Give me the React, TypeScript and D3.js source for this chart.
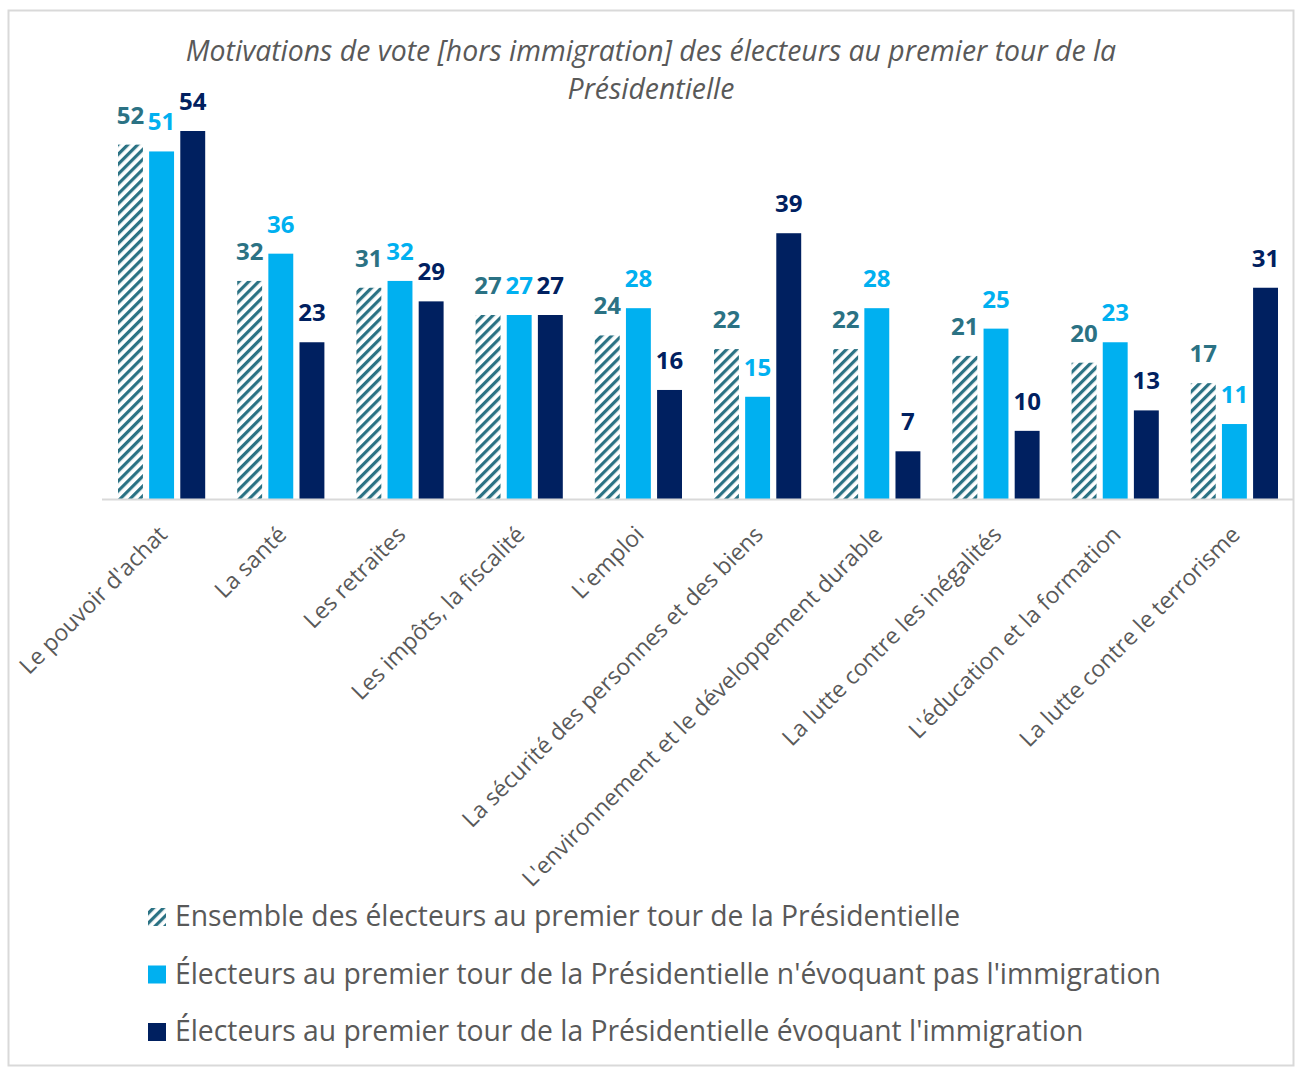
import React, { useEffect, useRef } from 'react'
import * as d3 from 'd3'

// categories and values
const categories = [
  "Le pouvoir d'achat",
  'La santé',
  'Les retraites',
  'Les impôts, la fiscalité',
  "L'emploi",
  'La sécurité des personnes et des biens',
  "L'environnement et le développement durable",
  'La lutte contre les inégalités',
  "L'éducation et la formation",
  'La lutte contre le terrorisme',
]
const ensemble = [52, 32, 31, 27, 24, 22, 22, 21, 20, 17]
const sansImmigration = [51, 36, 32, 27, 28, 15, 28, 25, 23, 11]
const avecImmigration = [54, 23, 29, 27, 16, 39, 7, 10, 13, 31]

const seriesNames = [
  'Ensemble des électeurs au premier tour de la Présidentielle',
  "Électeurs au premier tour de la Présidentielle n'évoquant pas l'immigration",
  "Électeurs au premier tour de la Présidentielle évoquant l'immigration",
]
const seriesKeys = ['ens', 'sans', 'avec']

const TEAL = '#2b7284'
const LIGHT = '#00b0f0'
const DARK = '#002060'
const GREY = '#595959'

function drawChart(node: SVGSVGElement) {
  const svg = d3.select(node)
  svg.selectAll('*').remove()

  const left = 102, right = 1294, baseline = 499

  // hatch pattern for the first series
  const defs = svg.append('defs')
  const pat = defs.append('pattern')
    .attr('id', 'hatch')
    .attr('patternUnits', 'userSpaceOnUse')
    .attr('width', 7)
    .attr('height', 7)
    .attr('patternTransform', 'rotate(45)')
  pat.append('rect').attr('width', 7).attr('height', 7).attr('fill', 'white')
  pat.append('rect').attr('width', 3.2).attr('height', 7).attr('fill', TEAL)

  // frame
  svg.append('rect')
    .attr('x', 8.5).attr('y', 10.5)
    .attr('width', 1285).attr('height', 1055)
    .attr('fill', 'white')
    .attr('stroke', '#d9d9d9')
    .attr('stroke-width', 2)

  const titleLines = ['Motivations de vote [hors immigration] des électeurs au premier tour de la', 'Présidentielle']
  titleLines.forEach((t, i) => {
    svg.append('text')
      .attr('x', 651).attr('y', 61 + i * 38)
      .attr('text-anchor', 'middle')
      .attr('font-family', "'Open Sans', sans-serif")
      .attr('font-style', 'italic')
      .attr('font-size', 28.4)
      .attr('fill', GREY)
      .text(t)
  })

  const data = categories.map((c, i) => ({
    cat: c,
    ens: ensemble[i],
    sans: sansImmigration[i],
    avec: avecImmigration[i],
  }))

  const x0 = d3.scaleBand().domain(categories).range([left, right]).paddingInner(0).paddingOuter(0)
  const x1 = d3.scaleBand().domain(seriesKeys).range([16, x0.bandwidth() - 16]).paddingInner(0.2)
  const y = d3.scaleLinear().domain([0, 54]).range([baseline, 131])

  const fills: Record<string, string> = { ens: 'url(#hatch)', sans: LIGHT, avec: DARK }
  const labelColors: Record<string, string> = { ens: TEAL, sans: LIGHT, avec: DARK }

  const groups = svg.append('g').selectAll('g')
    .data(data)
    .enter()
    .append('g')
    .attr('transform', d => 'translate(' + x0(d.cat) + ',0)')

  groups.selectAll('rect')
    .data(d => seriesKeys.map(k => ({ key: k, value: (d as any)[k] as number })))
    .enter()
    .append('rect')
    .attr('x', d => x1(d.key)!)
    .attr('y', d => y(d.value))
    .attr('width', x1.bandwidth())
    .attr('height', d => baseline - y(d.value))
    .attr('fill', d => fills[d.key])

  groups.selectAll('text')
    .data(d => seriesKeys.map(k => ({ key: k, value: (d as any)[k] as number })))
    .enter()
    .append('text')
    .attr('x', d => x1(d.key)! + x1.bandwidth() / 2)
    .attr('y', d => y(d.value) - 21)
    .attr('text-anchor', 'middle')
    .attr('font-family', "'Open Sans', sans-serif")
    .attr('font-weight', 'bold')
    .attr('font-size', 24)
    .attr('fill', d => labelColors[d.key])
    .text(d => d.value)

  // axis line
  svg.append('line')
    .attr('x1', left).attr('x2', right)
    .attr('y1', baseline + 0.5).attr('y2', baseline + 0.5)
    .attr('stroke', '#d9d9d9')
    .attr('stroke-width', 2)

  // category labels, rotated
  svg.append('g').selectAll('text')
    .data(categories)
    .enter()
    .append('text')
    .attr('transform', d => {
      const cx = x0(d)! + x0.bandwidth() / 2
      return 'translate(' + (cx + 7) + ',' + (baseline + 37) + ') rotate(-45)'
    })
    .attr('text-anchor', 'end')
    .attr('font-family', "'Open Sans', sans-serif")
    .attr('font-size', 23)
    .attr('fill', GREY)
    .text(d => d)

  // legend
  const legend = svg.append('g')
  seriesNames.forEach((name, i) => {
    const ly = 926 + i * 57.5
    legend.append('rect')
      .attr('x', 148).attr('y', ly - 18)
      .attr('width', 18).attr('height', 18)
      .attr('fill', [ 'url(#hatch)', LIGHT, DARK ][i])
    legend.append('text')
      .attr('x', 175).attr('y', ly)
      .attr('font-family', "'Open Sans', sans-serif")
      .attr('font-size', 28.3)
      .attr('fill', GREY)
      .text(name)
  })
}

export default function App() {
  const ref = useRef<SVGSVGElement>(null)
  useEffect(() => {
    if (ref.current) drawChart(ref.current)
  }, [])
  return (
    <svg
      ref={ref}
      width={1299}
      height={1068}
      style={{ position: 'absolute', left: 0, top: 0 }}
    />
  )
}
